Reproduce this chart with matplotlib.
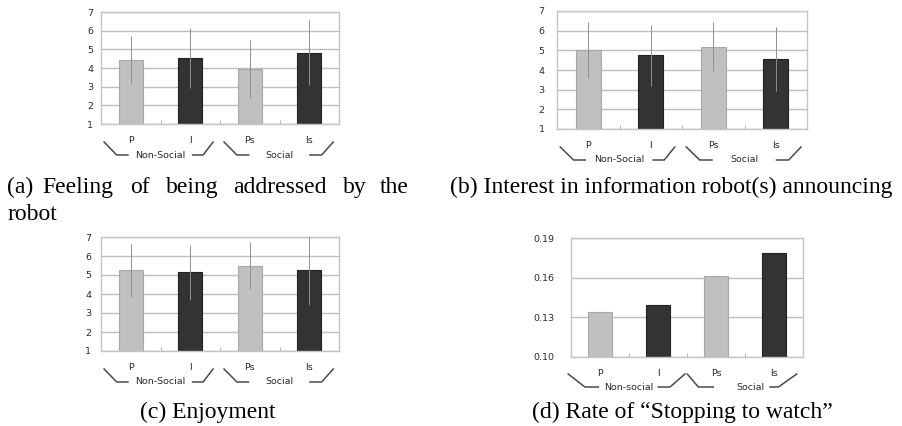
import matplotlib
matplotlib.use('Agg')
import matplotlib.pyplot as plt
from matplotlib.lines import Line2D

# ---------------- data ----------------
categories = ['P', 'I', 'Ps', 'Is']
groups_abc = ['Non-Social', 'Social']
groups_d = ['Non-social', 'Social']

addressed_mean = [4.43, 4.54, 3.94, 4.83]
addressed_sd = [1.31, 1.60, 1.55, 1.73]
interest_mean = [5.02, 4.75, 5.19, 4.57]
interest_sd = [1.41, 1.55, 1.23, 1.63]
enjoy_mean = [5.24, 5.15, 5.48, 5.27]
enjoy_sd = [1.41, 1.45, 1.24, 1.85]
stop_rate = [0.134, 0.139, 0.161, 0.179]

likert_ticks = [1, 2, 3, 4, 5, 6, 7]
rate_ticks = [0.10, 0.13, 0.16, 0.19]
rate_tick_labels = ['0.10', '0.13', '0.16', '0.19']

caption_a_words = ['(a)', 'Feeling', 'of', 'being', 'addressed', 'by', 'the']
caption_a_line2 = 'robot'
caption_b = '(b) Interest in information robot(s) announcing'
caption_c = '(c) Enjoyment'
caption_d = '(d) Rate of \u201cStopping to watch\u201d'

# ---------------- style ----------------
W, H = 902, 426
fig = plt.figure(figsize=(W / 100, H / 100), dpi=100)
LIGHT = '#c0c0c0'
LIGHT_EDGE = '#a8a8a8'
DARK = '#333333'
DARK_EDGE = '#222222'
bar_colors = [LIGHT, DARK, LIGHT, DARK]
edge_colors = [LIGHT_EDGE, DARK_EDGE, LIGHT_EDGE, DARK_EDGE]
TICK_COLOR = '#2a2a2a'
FRAME = '#c4c4c4'
GRID = '#bdbdbd'
TICK_FS = 6.8


def px_axes(x0, y0, x1, y1):
    return fig.add_axes([x0 / W, (H - y1) / H, (x1 - x0) / W, (y1 - y0) / H])


def style_axes(ax, ylim, yticks, ylabels, ypad_pt):
    ax.set_xlim(-0.5, 3.5)
    ax.set_ylim(*ylim)
    ax.set_yticks(yticks)
    ax.set_yticklabels(ylabels)
    ax.set_xticks(range(4))
    ax.set_xticklabels(categories)
    ax.set_xticks([0.5, 1.5, 2.5], minor=True)
    ax.tick_params(axis='y', length=0, pad=ypad_pt, labelsize=TICK_FS, labelcolor=TICK_COLOR)
    ax.tick_params(axis='x', which='major', length=0, pad=8.5, labelsize=TICK_FS, labelcolor=TICK_COLOR)
    ax.tick_params(axis='x', which='minor', direction='in', length=3, width=0.6, color='#aaaaaa')
    for s in ax.spines.values():
        s.set_color(FRAME)
        s.set_linewidth(1.0)
    ax.yaxis.grid(True, color=GRID, linewidth=1.0)
    ax.set_axisbelow(True)


def brackets(ax, groups, xs_ns, xs_s, text_x, top_px=18, bot_px=31):
    hpx = ax.get_position().height * H
    yt = -top_px / hpx
    yb = -bot_px / hpx
    for xs, label, tx in ((xs_ns, groups[0], text_x[0]), (xs_s, groups[1], text_x[1])):
        ax.add_line(Line2D([xs[0], xs[1], xs[2]], [yt, yb, yb], transform=ax.transAxes,
                           clip_on=False, color='#4a4a4a', linewidth=1.1))
        ax.add_line(Line2D([xs[3], xs[4], xs[5]], [yb, yb, yt], transform=ax.transAxes,
                           clip_on=False, color='#4a4a4a', linewidth=1.1))
        ax.text(tx, yb, label, transform=ax.transAxes, ha='center', va='center',
                fontsize=TICK_FS, color=TICK_COLOR)


def likert_panel(box, means, sds, ypad):
    ax = px_axes(*box)
    x = range(len(categories))
    ax.bar(x, means, width=0.4, color=bar_colors, edgecolor=edge_colors, linewidth=0.8, zorder=2)
    ax.errorbar(x, means, yerr=sds, fmt='none', ecolor='#8f8f8f', elinewidth=0.7,
                capsize=0, zorder=3)
    style_axes(ax, (1, 7), likert_ticks, [str(t) for t in likert_ticks], ypad)
    brackets(ax, groups_abc,
             [0.013, 0.066, 0.113, 0.385, 0.429, 0.471],
             [0.517, 0.571, 0.620, 0.878, 0.927, 0.976],
             [0.248, 0.748])
    return ax


ax_a = likert_panel((101, 12, 339, 124), addressed_mean, addressed_sd, 5.5)
ax_b = likert_panel((557, 11, 807, 129), interest_mean, interest_sd, 9)
ax_c = likert_panel((101, 237, 339, 351), enjoy_mean, enjoy_sd, 7)

ax_d = px_axes(571, 238, 803, 357)
ax_d.bar(range(len(categories)), stop_rate, width=0.42, color=bar_colors,
         edgecolor=edge_colors, linewidth=0.8, zorder=2)
style_axes(ax_d, (0.10, 0.19), rate_ticks, rate_tick_labels, 12)
brackets(ax_d, groups_d,
         [-0.012, 0.060, 0.118, 0.376, 0.427, 0.491],
         [0.501, 0.549, 0.613, 0.858, 0.894, 0.973],
         [0.247, 0.772], top_px=17, bot_px=30)

# ---------------- captions ----------------
serif = dict(family='Liberation Serif', fontsize=17, color='black')
word_x = [7, 42, 130, 166, 233, 343, 380]
for wx, w in zip(word_x, caption_a_words):
    fig.text(wx / W, 1 - 193 / H, w, ha='left', va='baseline', **serif)
fig.text(7 / W, 1 - 220 / H, caption_a_line2, ha='left', va='baseline', **serif)
fig.text(450 / W, 1 - 193 / H, caption_b, ha='left', va='baseline', **serif)
fig.text(140 / W, 1 - 418 / H, caption_c, ha='left', va='baseline', **serif)
fig.text(532 / W, 1 - 418 / H, caption_d, ha='left', va='baseline', **serif)

fig.savefig('out.png', dpi=100)
